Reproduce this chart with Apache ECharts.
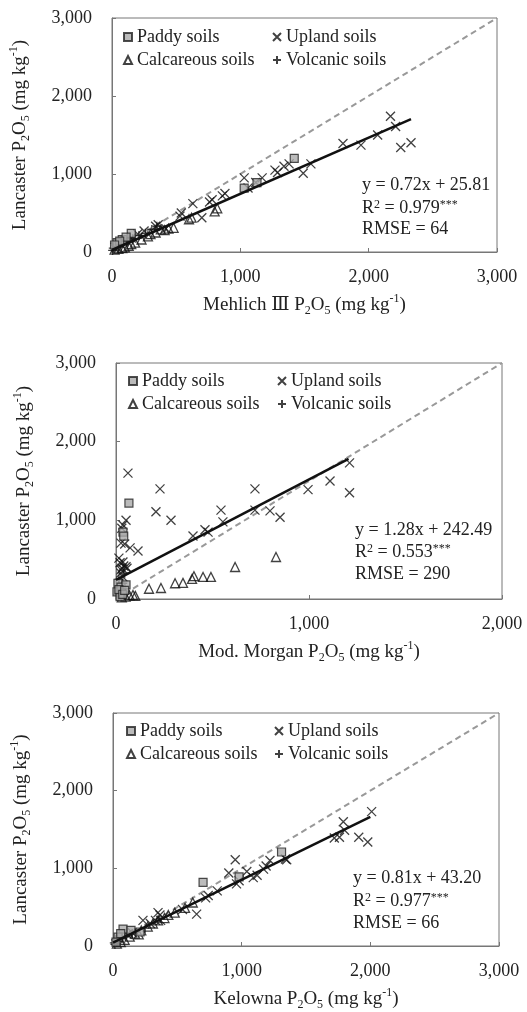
<!DOCTYPE html>
<html>
<head>
<meta charset="utf-8">
<script src="https://cdn.jsdelivr.net/npm/echarts@6/dist/echarts.min.js"></script>
<style>
html,body{margin:0;padding:0;background:#fff;}
#c{width:527px;height:1012px;}
</style>
</head>
<body>
<div id="c"></div>
<script>
// ---------- DATA ----------
var seriesNames = ['Paddy soils', 'Upland soils', 'Calcareous soils', 'Volcanic soils'];
var tickValues = [0, 1000, 2000, 3000];
var tickLabels = ['0', '1,000', '2,000', '3,000'];

// Panel 1: Mehlich III vs Lancaster
var m3Paddy = [[1420,1200],[1030,820],[1130,890],[150,240],[80,160],[40,120],[110,190],[60,140],[20,90]];
var m3Upland = [[2170,1740],[2210,1610],[2250,1340],[2330,1400],[2070,1500],[1940,1370],[1800,1390],[1550,1130],[1490,1010],[1380,1130],[1340,1100],[1290,1020],[1270,1050],[1170,950],[1120,890],[1060,820],[1030,950],[880,750],[860,720],[780,670],[760,640],[630,620],[700,440],[540,500],[530,460],[360,350],[340,330],[420,300],[250,270],[200,230],[150,180],[100,150],[60,110],[30,70]];
var m3Calc = [[820,560],[800,520],[620,440],[600,420],[480,310],[440,300],[410,280],[340,250],[280,200],[230,160],[180,120],[130,80],[80,50],[50,40],[20,30],[380,290],[300,230],[100,60],[150,100]];
var m3Volc = [[10,50],[30,90],[50,70],[70,110],[20,110],[120,130],[160,170],[210,210],[260,240],[310,290],[350,330],[5,20]];
var m3Fit = [[0,25.81],[2330,1703]];
var m3OneToOne = [[0,0],[3000,3000]];
var m3Text = ['y = 0.72x + 25.81', '0.979', '64'];

// Panel 2: Mod. Morgan vs Lancaster
var mmPaddy = [[67,1220],[36,850],[40,800],[10,200],[5,90],[26,150],[52,180],[21,30],[15,120],[35,60],[45,110]];
var mmUpland = [[62,1600],[228,1400],[207,1110],[285,1000],[52,1000],[36,940],[114,610],[73,650],[399,800],[461,880],[477,850],[544,1130],[554,980],[720,1400],[720,1130],[798,1120],[850,1040],[995,1390],[1109,1500],[1210,1350],[1210,1730],[26,710],[36,470],[26,370],[52,410],[21,460],[31,390],[57,390],[15,520],[36,280],[40,420],[25,330],[45,700],[30,900]];
var mmCalc = [[171,130],[233,140],[306,200],[347,205],[394,255],[404,290],[451,280],[492,280],[617,407],[829,534],[88,50],[70,45],[50,30],[30,20],[100,40]];
var mmVolc = [[10,60],[20,100],[30,150],[15,250],[40,330],[25,40],[50,70],[35,200]];
var mmFit = [[0,242],[1205,1780]];
var mmOneToOne = [[0,0],[2000,3000]];
var mmText = ['y = 1.28x + 242.49', '0.553', '290'];

// Panel 3: Kelowna vs Lancaster
var kelPaddy = [[1310,1210],[700,820],[980,890],[78,216],[140,200],[210,180],[39,114],[23,51],[60,160]];
var kelUpland = [[2010,1730],[1790,1600],[1800,1490],[1910,1400],[1980,1340],[1720,1390],[1760,1400],[1350,1110],[1340,1120],[1220,1100],[1190,1030],[1170,990],[1120,910],[1090,880],[1040,960],[980,840],[950,1110],[960,800],[900,940],[810,710],[740,650],[720,620],[650,410],[540,470],[365,400],[350,430],[330,330],[233,330],[290,290],[370,330],[110,150],[150,170],[60,90]];
var kelCalc = [[430,400],[400,360],[310,290],[270,250],[220,200],[170,160],[130,120],[90,80],[60,50],[30,30],[560,490],[480,430],[620,560],[350,330],[200,150]];
var kelVolc = [[10,40],[20,80],[40,60],[70,100],[100,120],[15,20],[150,160],[250,230]];
var kelFit = [[0,43.2],[2000,1663]];
var kelOneToOne = [[0,0],[3000,3000]];
var kelText = ['y = 0.81x + 43.20', '0.977', '66'];

var xTitles = ['Mehlich Ⅲ P', 'Mod. Morgan P', 'Kelowna P'];
var yTitle = 'Lancaster P';

// ---------- LAYOUT ----------
var SERIF = '"Liberation Serif", "DejaVu Serif", serif';
var grids = [
  {left:110, top:18, width:387, height:234},
  {left:116, top:363, width:386, height:236},
  {left:113, top:713, width:386, height:236}
];
var xMax = [3000, 2000, 3000];
var panels = [
  {paddy:m3Paddy, upland:m3Upland, calc:m3Calc, volc:m3Volc, fit:m3Fit, one:m3OneToOne, text:m3Text},
  {paddy:mmPaddy, upland:mmUpland, calc:mmCalc, volc:mmVolc, fit:mmFit, one:mmOneToOne, text:mmText},
  {paddy:kelPaddy, upland:kelUpland, calc:kelCalc, volc:kelVolc, fit:kelFit, one:kelOneToOne, text:kelText}
];

function fmt(v){ var i = tickValues.indexOf(v); return i >= 0 ? tickLabels[i] : String(v); }

var richName = {
  t:{fontSize:19, fontFamily:SERIF, color:'#222', lineHeight:24},
  sub:{fontSize:12, fontFamily:SERIF, color:'#222', verticalAlign:'bottom', lineHeight:13},
  sup:{fontSize:12, fontFamily:SERIF, color:'#222', verticalAlign:'top', lineHeight:13}
};
function axisName(prefix){
  return '{t|' + prefix + '}{sub|2}{t|O}{sub|5}{t| (mg kg}{sup|-1}{t|)}';
}

var XSYM = 'path://M0,0L10,10M10,0L0,10';
var PSYM = 'path://M5,0L5,10M0,5L10,5';

var option = {
  animation:false,
  backgroundColor:'#fff',
  grid: grids.map(function(g){ return Object.assign({show:true, borderColor:'#777', borderWidth:1, containLabel:false}, g); }),
  xAxis: [], yAxis: [], series: [], legend: [], graphic: []
};

var legendPos = [
  {l1:123, l2:272, r1:28, r2:48},
  {l1:128, l2:277, r1:372, r2:393},
  {l1:126, l2:274, r1:722, r2:743}
];
var textPos = [
  {left:362, tops:[176,199,220]},
  {left:355, tops:[521,543,565]},
  {left:353, tops:[869,892,914]}
];

panels.forEach(function(p, i){
  option.xAxis.push({
    type:'value', gridIndex:i, min:0, max:xMax[i], interval:1000,
    name: axisName(xTitles[i]), nameLocation:'middle', nameGap:41,
    nameTextStyle:{rich:richName},
    axisLine:{show:true, lineStyle:{color:'#777', width:1}},
    axisTick:{show:true, inside:true, length:4, lineStyle:{color:'#777'}},
    axisLabel:{formatter:fmt, fontFamily:SERIF, fontSize:18, color:'#222', margin:16, showMinLabel:true, showMaxLabel:true, hideOverlap:false},
    splitLine:{show:false}
  });
  option.yAxis.push({
    type:'value', gridIndex:i, min:0, max:3000, interval:1000,
    name: axisName(yTitle), nameLocation:'middle', nameGap:80,
    nameTextStyle:{rich:richName},
    axisLine:{show:true, lineStyle:{color:'#777', width:1}},
    axisTick:{show:true, inside:true, length:4, lineStyle:{color:'#777'}},
    axisLabel:{formatter:fmt, fontFamily:SERIF, fontSize:18, color:'#222', margin:20, showMinLabel:true, showMaxLabel:true},
    splitLine:{show:false}
  });
  // 1:1 dashed line
  option.series.push({type:'line', xAxisIndex:i, yAxisIndex:i, data:p.one, symbol:'none', silent:true,
    lineStyle:{color:'#999', width:2, type:[6,4]}, z:1});
  option.series.push({name:seriesNames[2], type:'scatter', xAxisIndex:i, yAxisIndex:i, data:p.calc,
    symbol:'triangle', symbolSize:9, itemStyle:{color:'rgba(255,255,255,0)', borderColor:'#111', borderWidth:1.3}, z:3});
  option.series.push({name:seriesNames[3], type:'scatter', xAxisIndex:i, yAxisIndex:i, data:p.volc,
    symbol:PSYM, symbolSize:9, itemStyle:{color:'rgba(0,0,0,0)', borderColor:'#111', borderWidth:1.3}, z:3});
  option.series.push({name:seriesNames[1], type:'scatter', xAxisIndex:i, yAxisIndex:i, data:p.upland,
    symbol:XSYM, symbolSize:9, itemStyle:{color:'rgba(0,0,0,0)', borderColor:'#111', borderWidth:1.3}, z:3});
  option.series.push({name:seriesNames[0], type:'scatter', xAxisIndex:i, yAxisIndex:i, data:p.paddy,
    symbol:'rect', symbolSize:8, itemStyle:{color:'#aaa', borderColor:'#222', borderWidth:1.2}, z:4});
  // regression line
  option.series.push({type:'line', xAxisIndex:i, yAxisIndex:i, data:p.fit, symbol:'none', silent:true,
    lineStyle:{color:'#111', width:2.5}, z:5});

  var lp = legendPos[i];
  var legCommon = {orient:'vertical', itemWidth:8, itemHeight:8, itemGap:5, padding:0, selectedMode:false,
    textStyle:{fontFamily:SERIF, fontSize:18, color:'#222', lineHeight:16}};
  option.legend.push(Object.assign({}, legCommon, {left:lp.l1, top:lp.r1, data:[seriesNames[0], seriesNames[2]]}));
  option.legend.push(Object.assign({}, legCommon, {left:lp.l2, top:lp.r1, data:[seriesNames[1], seriesNames[3]]}));

  var tp = textPos[i];
  var rich = {a:{fontSize:18, fontFamily:SERIF, fill:'#222', color:'#222'}, s:{fontSize:12, fontFamily:SERIF, color:'#222', verticalAlign:'top'}};
  option.graphic.push({type:'text', left:tp.left, top:tp.tops[0], style:{text:'{a|' + p.text[0] + '}', rich:rich, fill:'#222'}});
  option.graphic.push({type:'text', left:tp.left, top:tp.tops[1], style:{text:'{a|R}{s|2}{a| = ' + p.text[1] + '}{s|***}', rich:rich, fill:'#222'}});
  option.graphic.push({type:'text', left:tp.left, top:tp.tops[2], style:{text:'{a|RMSE = ' + p.text[2] + '}', rich:rich, fill:'#222'}});
});

var chart = echarts.init(document.getElementById('c'), null, {renderer:'canvas'});
chart.setOption(option);
</script>
</body>
</html>
